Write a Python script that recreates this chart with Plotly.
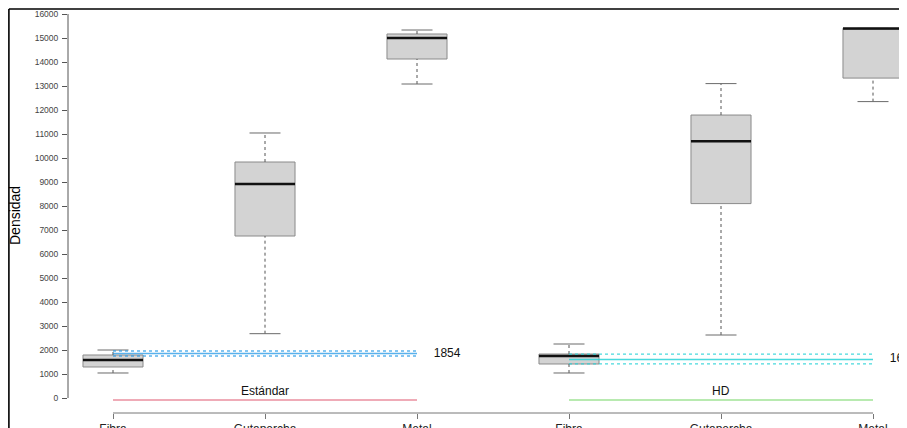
import plotly.graph_objects as go

# ---------------- data ----------------
categories = ["Fibra", "Gutapercha", "Metal", "Fibra", "Gutapercha", "Metal"]
groups = ["Estándar", "HD"]
group_of_box = [0, 0, 0, 1, 1, 1]
lower_whisker = [1042, 2680, 13083, 1042, 2625, 12350]
q1_vals = [1292, 6750, 14125, 1417, 8100, 13330]
median_vals = [1583, 8917, 15000, 1750, 10700, 15400]
q3_vals = [1792, 9833, 15167, 1833, 11790, 15400]
upper_whisker = [2000, 11042, 15333, 2250, 13100, 15400]

group_means = [1854, 1605]
group_ci_low = [1750, 1420]
group_ci_high = [1958, 1830]

y_ticks = list(range(0, 16001, 1000))

# ---------------- styling ----------------
positions = list(range(1, len(categories) + 1))
box_w = 0.395
cap_half = 0.102
group_line_colors = ["rgba(223,83,107,0.65)", "rgba(97,208,79,0.6)"]
mean_colors = ["rgba(34,151,230,0.75)", "rgba(40,210,215,0.85)"]
font_family = "Liberation Sans, Arial, sans-serif"

fig = go.Figure()

# boxes (quartiles only, whiskers drawn separately to make them dashed)
fig.add_trace(go.Box(
    x=positions, q1=q1_vals, median=median_vals, q3=q3_vals,
    lowerfence=q1_vals, upperfence=q3_vals,
    width=box_w, whiskerwidth=0, boxpoints=False,
    fillcolor="#D3D3D3", line=dict(color="#8a8a8a", width=1),
    showlegend=False, hoverinfo="skip",
))

# whiskers
wx, wy = [], []
for p, lo, a, b, hi in zip(positions, lower_whisker, q1_vals, q3_vals, upper_whisker):
    wx += [p, p, None, p, p, None]
    wy += [lo, a, None, b, hi, None]
fig.add_trace(go.Scatter(x=wx, y=wy, mode="lines",
                         line=dict(color="#555555", width=1, dash="dot"),
                         showlegend=False, hoverinfo="skip"))

# caps
cx, cy = [], []
for p, lo, hi in zip(positions, lower_whisker, upper_whisker):
    cx += [p - cap_half, p + cap_half, None, p - cap_half, p + cap_half, None]
    cy += [lo, lo, None, hi, hi, None]
fig.add_trace(go.Scatter(x=cx, y=cy, mode="lines",
                         line=dict(color="#6a6a6a", width=1),
                         showlegend=False, hoverinfo="skip"))

# medians
mx, my = [], []
for p, m in zip(positions, median_vals):
    mx += [p - box_w / 2, p + box_w / 2, None]
    my += [m, m, None]
fig.add_trace(go.Scatter(x=mx, y=my, mode="lines",
                         line=dict(color="#111111", width=2.5),
                         showlegend=False, hoverinfo="skip"))

# group means with CI and group lines
for gi, gname in enumerate(groups):
    gpos = [p for p, g in zip(positions, group_of_box) if g == gi]
    x0, x1 = min(gpos), max(gpos)
    xc = (x0 + x1) / 2
    for v in (group_ci_low[gi], group_ci_high[gi]):
        fig.add_trace(go.Scatter(x=[x0, x1], y=[v, v], mode="lines",
                                 line=dict(color=mean_colors[gi], width=1.3, dash="dot"),
                                 showlegend=False, hoverinfo="skip"))
    fig.add_trace(go.Scatter(x=[x0, x1], y=[group_means[gi]] * 2, mode="lines",
                             line=dict(color=mean_colors[gi], width=1.3),
                             showlegend=False, hoverinfo="skip"))
    fig.add_trace(go.Scatter(x=[x1 + 0.11], y=[group_means[gi]], mode="text",
                             text=[str(group_means[gi])], textposition="middle right",
                             cliponaxis=False,
                             textfont=dict(size=12, color="#111", family=font_family),
                             showlegend=False, hoverinfo="skip"))
    # group indicator line
    fig.add_trace(go.Scatter(x=[x0, x1], y=[-83, -83], mode="lines",
                             line=dict(color=group_line_colors[gi], width=1.5),
                             showlegend=False, hoverinfo="skip"))
    fig.add_annotation(x=xc, y=292, text=gname, xanchor="center", yanchor="middle",
                       showarrow=False, font=dict(size=12, color="#111", family=font_family))

# page body adds an 8px offset; plot area placed to match the window pixels
W, H = 907, 420
ml, mt = 60, 2
plot_bottom = 405
mb = H - plot_bottom
mr = 8
pw = W - ml - mr
ph = plot_bottom - mt
# pixel-based ranges
x_lo = 1 - (113 - 68) / 152.0
x_hi = 6 + (907 - 873) / 152.0
y_lo = -15 / 24.0 * 1000
y_hi = 16000 + 4 / 24.0 * 1000

# axis lines (R style: only between extreme ticks)
fig.add_shape(type="line", xref="paper", yref="y", x0=0, x1=0, y0=0, y1=16000,
              line=dict(color="#555555", width=1))
fig.add_shape(type="line", xref="x", yref="paper", x0=positions[0], x1=positions[-1],
              y0=0, y1=0, line=dict(color="#777777", width=1))

# outer frame (left and top edges visible)
fx = (0.9 - ml) / pw
fy = 1 + (mt - 1.0) / ph
fig.add_shape(type="line", xref="paper", yref="paper", x0=fx, x1=fx, y0=-0.2, y1=fy,
              line=dict(color="#000", width=1.6))
fig.add_shape(type="line", xref="paper", yref="paper", x0=fx, x1=1.05, y0=fy, y1=fy,
              line=dict(color="#000", width=1.6))

fig.add_annotation(xref="paper", yref="paper", x=(7 - ml) / pw, y=(plot_bottom - 207) / ph,
                   text="Densidad", textangle=-90, showarrow=False,
                   xanchor="center", yanchor="middle",
                   font=dict(size=14, color="#000", family=font_family))

fig.update_layout(
    width=W, height=H,
    margin=dict(l=ml, r=mr, t=mt, b=mb, pad=0, autoexpand=False),
    paper_bgcolor="white", plot_bgcolor="white",
    showlegend=False,
    xaxis=dict(range=[x_lo, x_hi], tickvals=positions, ticktext=categories,
               showgrid=False, zeroline=False, showline=False, automargin=False,
               ticks="outside", ticklen=5, tickcolor="#777",
               tickfont=dict(size=12, color="#222", family=font_family)),
    yaxis=dict(range=[y_lo, y_hi], tickvals=y_ticks, ticktext=[str(v) for v in y_ticks],
               showgrid=False, zeroline=False, showline=False, automargin=False,
               ticks="outside", ticklen=5, tickcolor="#555",
               ticklabelstandoff=2,
               tickfont=dict(size=8.5, color="#444", family=font_family)),
)

fig.write_html("out.html")
